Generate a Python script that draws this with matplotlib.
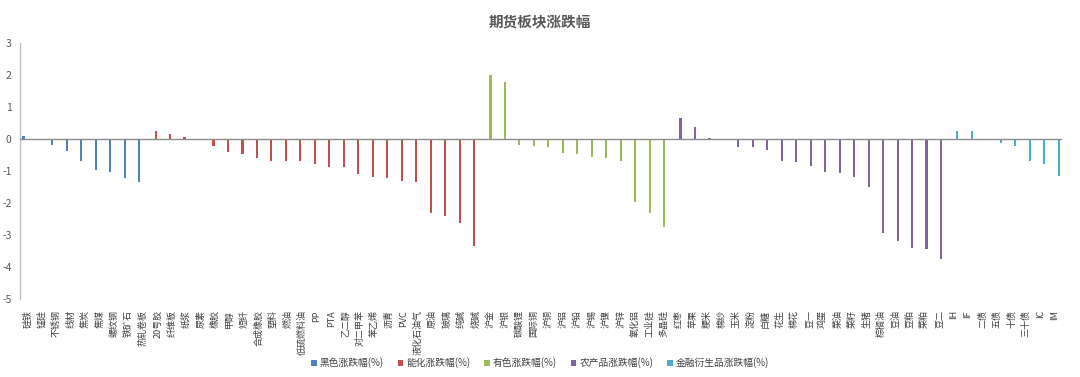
import numpy as np
import matplotlib
matplotlib.use("Agg")
import matplotlib.pyplot as plt

plt.rcParams['font.family'] = ['Noto Sans CJK SC', 'DejaVu Sans']
plt.rcParams['axes.unicode_minus'] = False

# 数据
black_names = ["硅铁", "锰硅", "不锈钢", "线材", "焦炭", "焦煤", "螺纹钢", "铁矿石", "热轧卷板"]
black_vals = [0.10, -0.04, -0.18, -0.37, -0.68, -0.96, -1.02, -1.23, -1.35]

chem_names = ["20号胶", "纤维板", "纸浆", "尿素", "橡胶", "甲醇", "短纤", "合成橡胶", "塑料",
              "燃油", "低硫燃料油", "PP", "PTA", "乙二醇", "对二甲苯", "苯乙烯", "沥青", "PVC",
              "液化石油气", "原油", "玻璃", "纯碱", "烧碱"]
chem_vals = [0.24, 0.16, 0.05, 0.01, -0.23, -0.42, -0.46, -0.58, -0.68,
             -0.70, -0.70, -0.77, -0.89, -0.89, -1.10, -1.19, -1.23, -1.30,
             -1.36, -2.31, -2.41, -2.63, -3.35]

metal_names = ["沪金", "沪银", "碳酸锂", "国际铜", "沪铜", "沪铝", "沪铅", "沪锡", "沪镍",
               "沪锌", "氧化铝", "工业硅", "多晶硅"]
metal_vals = [1.99, 1.78, -0.18, -0.22, -0.26, -0.43, -0.46, -0.57, -0.60,
              -0.70, -1.96, -2.32, -2.76]

agri_names = ["红枣", "苹果", "粳米", "棉纱", "玉米", "淀粉", "白糖", "花生", "棉花", "豆一",
              "鸡蛋", "菜油", "菜籽", "生猪", "棕榈油", "豆油", "豆粕", "菜粕", "豆二"]
agri_vals = [0.66, 0.38, 0.04, -0.04, -0.25, -0.25, -0.33, -0.68, -0.71, -0.85,
             -1.02, -1.06, -1.19, -1.49, -2.95, -3.18, -3.40, -3.43, -3.76]

fin_names = ["IH", "IF", "二债", "五债", "十债", "三十债", "IC", "IM"]
fin_vals = [0.25, 0.25, -0.04, -0.14, -0.21, -0.68, -0.79, -1.17]

series = [
    ("黑色涨跌幅(%)", black_names, black_vals, "#4F81BD"),
    ("能化涨跌幅(%)", chem_names, chem_vals, "#C0504D"),
    ("有色涨跌幅(%)", metal_names, metal_vals, "#9BBB59"),
    ("农产品涨跌幅(%)", agri_names, agri_vals, "#8064A2"),
    ("金融衍生品涨跌幅(%)", fin_names, fin_vals, "#4BACC6"),
]

all_names = black_names + chem_names + metal_names + agri_names + fin_names

fig = plt.figure(figsize=(10.8, 3.77), dpi=100)
ax = fig.add_axes([0.0185, 0.207, 0.965, 0.679])

start = 0
slot = 0.13
for i, (label, names, vals, color) in enumerate(series):
    x = np.arange(start, start + len(names)) + (i - 2) * slot
    ax.bar(x, vals, width=0.15, color=color, label=label, zorder=2)
    start += len(names)

ax.axhline(0, color="#8c8c8c", lw=1.0, zorder=3)
ax.set_xlim(-0.5, len(all_names) - 0.5)
ax.set_ylim(-5, 3)
ax.set_yticks(range(-5, 4))
ax.set_xticks(range(len(all_names)))
ax.set_xticklabels(all_names, rotation=90, fontsize=6.5, color="#404040")
ax.tick_params(axis="x", length=0, pad=8)
ax.tick_params(axis="y", length=0, labelsize=7.5, labelcolor="#595959", pad=6)

for s in ["top", "right", "bottom"]:
    ax.spines[s].set_visible(False)
ax.spines["left"].set_color("#bfbfbf")
ax.spines["left"].set_linewidth(1.0)

fig.suptitle("期货板块涨跌幅", x=0.5, y=0.965, fontsize=10.5, fontweight="bold", color="#595959")

fig.legend(loc="lower center", bbox_to_anchor=(0.5, 0.0), ncol=5, frameon=False,
           fontsize=7, handlelength=0.6, handleheight=0.6, handletextpad=0.3,
           columnspacing=1.4, labelcolor="#404040")

fig.savefig("out.png", dpi=100)
